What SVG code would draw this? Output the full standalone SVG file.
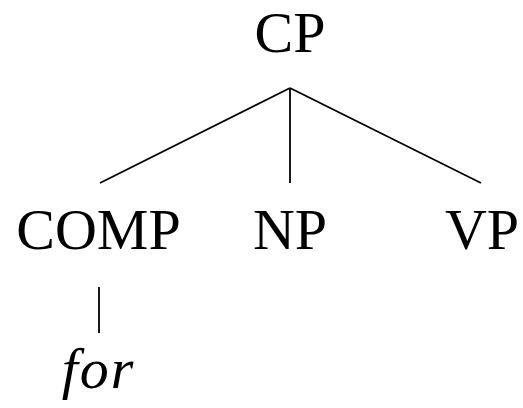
<svg xmlns="http://www.w3.org/2000/svg" width="523" height="408" viewBox="0 0 523 408">
<style>
.lbl{font-family:"Liberation Serif","DejaVu Serif",serif;font-size:58px;fill:#000;text-anchor:middle}
.it{font-style:italic}
.edge{stroke:#000;stroke-width:1.8;fill:none;stroke-linecap:butt}
</style>
<rect width="523" height="408" fill="#fff"/>
<g id="connectors">
<line class="edge" x1="290" y1="88" x2="100" y2="183"/>
<line class="edge" x1="290" y1="88" x2="290" y2="183"/>
<line class="edge" x1="290" y1="88" x2="481" y2="183"/>
<line class="edge" x1="99" y1="287" x2="99" y2="333"/>
</g>
<g id="CP"><text class="lbl" x="290" y="52">CP</text></g>
<g id="COMP"><text class="lbl" x="98.5" y="249">COMP</text></g>
<g id="NP"><text class="lbl" x="290" y="249">NP</text></g>
<g id="VP"><text class="lbl" x="482" y="249">VP</text></g>
<g id="for"><text class="lbl it" x="98.5" y="388" letter-spacing="2">for</text></g>
</svg>
